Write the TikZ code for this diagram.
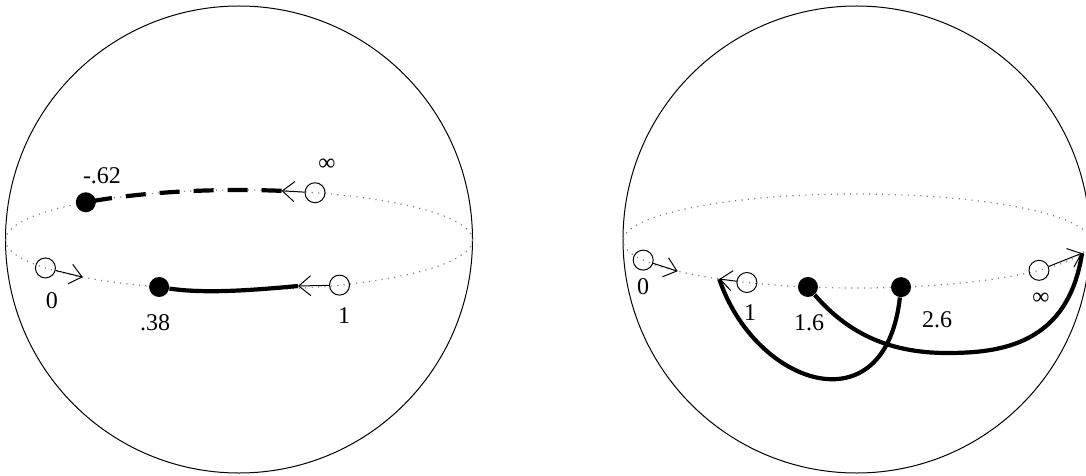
\documentclass[tikz,border=0pt]{standalone}
\usepackage{fontspec}
\setmainfont{Liberation Serif}
\usepackage{tikz}
\usetikzlibrary{positioning,arrows.meta,calc}
\definecolor{dotc}{HTML}{808080}
\tikzset{
  sphere/.style={draw, line width=0.5pt},
  orbit/.style={draw=dotc, line width=0.6pt, dash pattern=on 0.6pt off 2.6pt},
  hole/.style={circle, draw, line width=0.5pt, minimum size=10pt, inner sep=0pt},
  pole/.style={circle, fill=black, minimum size=10pt, inner sep=0pt},
  stick/.style={-{Straight Barb[length=6pt,width=10pt]}, line width=0.5pt},
  heavy/.style={line width=2.1pt},
  heavydash/.style={line width=2.1pt, dash pattern=on 10pt off 7pt},
  lbl/.style={inner sep=0pt, font=\fontsize{12}{14}\selectfont}
}
\begin{document}
\begin{tikzpicture}[x=0.5pt, y=-0.5pt]
\useasboundingbox (0,0) rectangle (1086,476);
\clip (0,0) rectangle (1086,476);

% left sphere
\coordinate (cl) at (239,239.5);
\coordinate (el) at (239,240);
\draw[sphere] (cl) circle[radius=233.5];
\draw[orbit] (el) ellipse[x radius=233.5, y radius=50];
\node[hole] (zl) at ($(el)+(146:233.5 and 50)$) {};
\coordinate (zlt) at ($(el)+(132:233.5 and 50)$);
\node[pole] (al) at ($(el)+(110:233.5 and 50)$) {};
\node[hole] (ol) at ($(el)+(64.5:233.5 and 50)$) {};
\coordinate (olt) at (298,286);
\node[hole] (il) at ($(el)+(289:233.5 and 50)$) {};
\coordinate (ilt) at ($(el)+(280.5:233.5 and 50)$);
\node[pole] (bl) at ($(el)+(229:233.5 and 50)$) {};
\draw[stick] (zl) -- (zlt);
\draw[stick] (ol) -- (olt);
\draw[stick] (il) -- (ilt);
\draw[heavy] (al) .. controls (205,294) and (255,290) .. (olt);
\draw[heavydash] (ilt) arc[start angle=280.5, end angle=229, x radius=233.5, y radius=50];
\node[lbl] at (102,176) {-.62};
\node[lbl] at (327,165) {∞};
\node[lbl] at (52,301) {0};
\node[lbl] at (155,323) {.38};
\node[lbl] at (344,316) {1};

% right sphere
\coordinate (cr) at (856.5,239.5);
\coordinate (er) at (856.5,241);
\draw[sphere] (cr) circle[radius=233.5];
\draw[orbit] (er) ellipse[x radius=233.5, y radius=47];
\node[hole] (zr) at ($(er)+(156:233.5 and 47)$) {};
\coordinate (zrt) at ($(er)+(140:233.5 and 47)$);
\node[hole] (or) at ($(er)+(118:233.5 and 47)$) {};
\coordinate (ort) at ($(er)+(126:233.5 and 47)$);
\node[pole] (pr) at ($(er)+(102:233.5 and 47)$) {};
\node[pole] (qr) at ($(er)+(79:233.5 and 47)$) {};
\node[hole] (ir) at ($(er)+(38.6:233.5 and 47)$) {};
\coordinate (irt) at ($(er)+(15:233.5 and 47)$);
\draw[stick] (zr) -- (zrt);
\draw[stick] (or) -- (ort);
\draw[stick] (ir) -- (irt);
\draw[heavy] (ort) .. controls (755,385) and (885,430) .. (qr);
\draw[heavy] (pr) .. controls (845,330) and (885,353) .. (947,353)
  .. controls (1000,353) and (1068,345) .. (irt);
\node[lbl] at (643,287) {0};
\node[lbl] at (750,313) {1};
\node[lbl] at (809,323) {1.6};
\node[lbl] at (937,320) {2.6};
\node[lbl] at (1041,299) {∞};
\end{tikzpicture}
\end{document}
